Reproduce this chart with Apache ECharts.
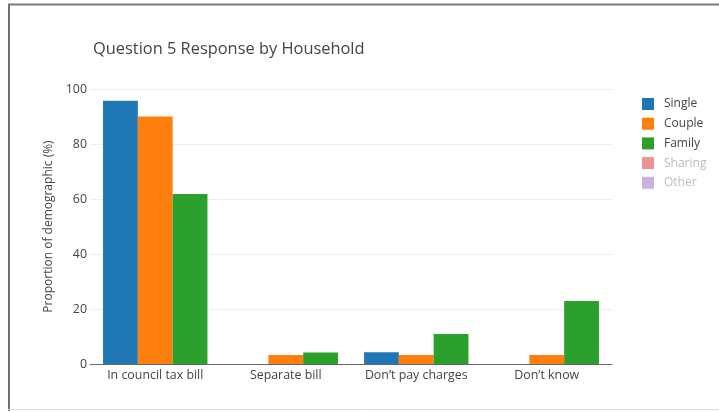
<!DOCTYPE html>
<html>
<head>
<meta charset="utf-8">
<script src="https://cdn.jsdelivr.net/npm/echarts@6/dist/echarts.min.js"></script>
<style>
  html, body { margin: 0; padding: 0; background: #fff; }
  #chart { width: 719px; height: 411px; }
</style>
</head>
<body>
<div id="chart"></div>
<script>
// Survey answers to question 5, share of each household type (%)
const categories = ['In council tax bill', 'Separate bill', 'Don\u2019t pay charges', 'Don\u2019t know'];
const single = [95.7, 0, 4.3, 0];
const couple = [90.0, 3.3, 3.3, 3.3];
const family = [61.8, 4.2, 10.9, 22.9];
// Household types shown only in the legend (hidden traces)
const sharing = [];
const other = [];
const yTicks = { min: 0, max: 100, interval: 20 };

const FONT = '"Open Sans", "Noto Sans", sans-serif';
const TEXT = '#444';

const chart = echarts.init(document.getElementById('chart'), null, { renderer: 'canvas' });

const barSeries = (name, data, color, axis) => ({
  name, type: 'bar', data,
  xAxisIndex: axis, yAxisIndex: axis,
  itemStyle: { color },
  barGap: '0%', barCategoryGap: '20%',
  emphasis: { disabled: true },
  animation: false
});

chart.setOption({
  backgroundColor: '#fff',
  animation: false,
  textStyle: { fontFamily: FONT },
  title: {
    text: 'Question 5 Response by Household',
    left: 88, top: 36,
    textStyle: { fontFamily: FONT, fontSize: 16.4, fontWeight: 'normal', color: TEXT }
  },
  legend: {
    orient: 'vertical',
    left: 637, top: 93,
    itemWidth: 12, itemHeight: 12, itemGap: 7.7,
    icon: 'rect',
    textStyle: { fontFamily: FONT, fontSize: 12, color: TEXT, padding: [0, 0, 0, 5] },
    selectedMode: false,
    data: [
      { name: 'Single' },
      { name: 'Couple' },
      { name: 'Family' },
      { name: 'Sharing', itemStyle: { opacity: 0.5 }, textStyle: { color: '#bbb' } },
      { name: 'Other', itemStyle: { opacity: 0.5 }, textStyle: { color: '#bbb' } }
    ]
  },
  graphic: [
    { type: 'line', shape: { x1: 9, y1: 4, x2: 9, y2: 411 }, style: { stroke: '#6f6f6f', lineWidth: 2 }, z: 100 },
    { type: 'line', shape: { x1: 8, y1: 4.5, x2: 719, y2: 4.5 }, style: { stroke: '#7a7a7a', lineWidth: 2 }, z: 100 },
    { type: 'line', shape: { x1: 8, y1: 409.5, x2: 719, y2: 409.5 }, style: { stroke: '#dddddd', lineWidth: 1 }, z: 100 }
  ],
  grid: [
    { left: 90, right: 107, top: 89, bottom: 47, containLabel: false },
    { left: 90, right: 107, top: 89, bottom: 47, containLabel: false }
  ],
  xAxis: [
    {
      type: 'category', data: categories, gridIndex: 0,
      axisTick: { show: false },
      axisLine: { lineStyle: { color: '#666', width: 1 } },
      axisLabel: { fontFamily: FONT, fontSize: 12.4, color: TEXT, margin: 5, interval: 0, hideOverlap: false }
    },
    { type: 'category', data: categories, gridIndex: 1, show: false }
  ],
  yAxis: [
    {
      type: 'value', gridIndex: 0,
      min: yTicks.min, max: yTicks.max, interval: yTicks.interval,
      name: 'Proportion of demographic (%)',
      nameLocation: 'middle', nameGap: 34, nameRotate: 90,
      nameTextStyle: { fontFamily: FONT, fontSize: 12, color: TEXT },
      axisLine: { show: false },
      axisTick: { show: false },
      axisLabel: { fontFamily: FONT, fontSize: 12.4, color: TEXT, margin: 3 },
      splitLine: { lineStyle: { color: '#eeeeee', width: 1 } }
    },
    { type: 'value', gridIndex: 1, min: yTicks.min, max: yTicks.max, show: false }
  ],
  series: [
    barSeries('Single', single, '#1f77b4', 0),
    barSeries('Couple', couple, '#ff7f0e', 0),
    barSeries('Family', family, '#2ca02c', 0),
    barSeries('Sharing', sharing, '#d62728', 1),
    barSeries('Other', other, '#9467bd', 1)
  ]
});
</script>
</body>
</html>
